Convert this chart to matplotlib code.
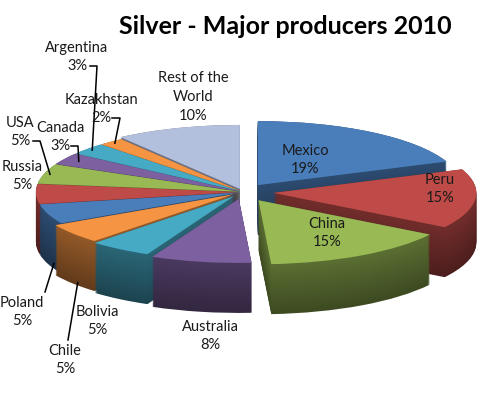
import numpy as np
import matplotlib.pyplot as plt
import matplotlib.colors as mcolors

countries = ["Mexico", "Peru", "China", "Australia", "Bolivia", "Chile", "Poland",
             "Russia", "USA", "Canada", "Argentina", "Kazakhstan", "Rest of the\nWorld"]
shares = [19, 15, 15, 8, 5, 5, 5, 5, 5, 3, 3, 2, 10]

colors = ["#4A7EBB", "#BE4B48", "#98B954", "#7D60A0", "#46AAC5", "#F59443",
          "#4A7EBB", "#BE4B48", "#98B954", "#7D60A0", "#46AAC5", "#F59443", "#B3C0DD"]
explode = [0.13, 0.15, 0.15, 0.11, 0.08, 0.06, 0.02, 0.02, 0.02, 0.02, 0.02, 0.02, 0.05]

# label placement in pixels (centre of the two-line block), leader start / knee
label_pos = {
    "Mexico": (305, 160), "Peru": (440, 189), "China": (327, 233),
    "Australia": (210, 336), "Bolivia": (97, 321), "Chile": (65, 360),
    "Poland": (22, 312), "Russia": (22, 176), "USA": (20, 132),
    "Canada": (60, 137), "Argentina": (77, 57), "Kazakhstan": (101, 109),
    "Rest of the\nWorld": (193, 97),
}
leaders = {
    "Argentina": [(90, 66), (97, 66)],
    "Kazakhstan": [(112, 118), (120, 118)],
    "Canada": [(71, 146), (78, 146)],
    "USA": [(33, 141), (40, 141)],
    "Poland": [(45, 292)],
    "Chile": [(68, 340)],
}
leader_r = {"Canada": 0.92}
on_side = ["Poland", "Chile"]

W, H = 500, 403
cx, cy, rx, ry = 243, 192, 203, 64   # pixel centre and radii
depth_px = 50
xmin, xmax = -cx / rx, (W - cx) / rx
ymin, ymax = -(H - cy) / ry, cy / ry
depth = depth_px / ry


def px2data(px, py):
    return xmin + px / W * (xmax - xmin), ymax - py / H * (ymax - ymin)


fig = plt.figure(figsize=(5.0, 4.03), dpi=100)
ax = fig.add_axes([0, 0, 1, 1])

# side walls: stacked darker pies, then the top face
n_layers = 50
for k in range(n_layers):
    t = k / (n_layers - 1)
    shade = 0.40 + 0.2 * t
    side = [tuple(np.array(mcolors.to_rgb(c)) * shade) for c in colors]
    ax.pie(shares, colors=side, explode=explode, startangle=90, counterclock=False,
           center=(0, -depth * (1 - t)), wedgeprops=dict(linewidth=0))
ax.pie(shares, colors=colors, explode=explode, startangle=90, counterclock=False,
       center=(0, 0), wedgeprops=dict(linewidth=0))

ax.set_aspect("auto")
ax.set_xlim(xmin, xmax)
ax.set_ylim(ymin, ymax)
ax.axis("off")

total = sum(shares)
cum = np.cumsum([0] + shares[:-1]) / total
for name, share, start, ex in zip(countries, shares, cum, explode):
    px, py = label_pos[name]
    ax.text(*px2data(px, py), f"{name}\n{share}%", ha="center", va="center",
            fontsize=10.5, family="Lato", linespacing=1.45, color="#1a1a1a")
    if name in leaders:
        mid = np.deg2rad(90 - 360 * (start + share / total / 2))
        r = leader_r.get(name, 0.97) + ex
        tx, ty = r * np.cos(mid), r * np.sin(mid)
        if name in on_side:
            ty -= depth
        pts = [px2data(*p) for p in leaders[name]] + [(tx, ty)]
        ax.plot([p[0] for p in pts], [p[1] for p in pts], color="black",
                linewidth=1.1, clip_on=False)

fig.text(285 / W, 1 - 27 / H, "Silver - Major producers 2010", ha="center",
         va="center", fontsize=18, fontweight="bold", family="Lato")

fig.savefig("out.png", dpi=100, facecolor="white")
